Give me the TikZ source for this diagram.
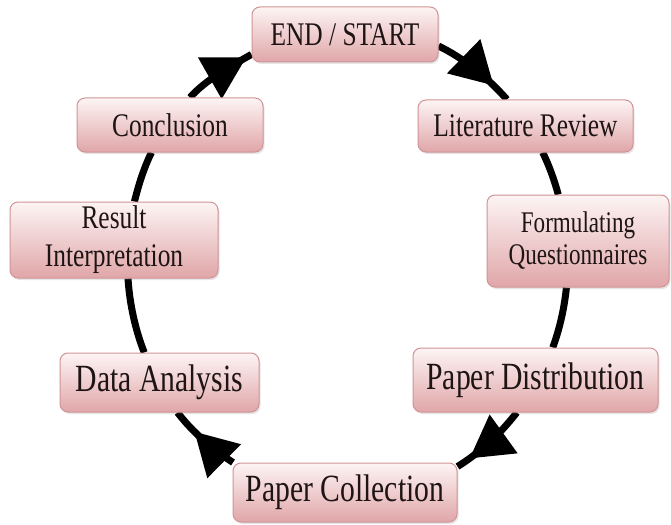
\documentclass[tikz,border=0pt]{standalone}
\usepackage{fontspec}
\setmainfont{Liberation Serif}[FakeStretch=0.77]
\usepackage{tikz}
\usetikzlibrary{arrows.meta,decorations.markings,shadows,backgrounds,positioning}
\definecolor{boxtop}{RGB}{253,244,244}
\definecolor{boxbot}{RGB}{224,166,168}
\definecolor{boxline}{RGB}{208,148,150}
\definecolor{textcol}{RGB}{30,20,20}
\tikzset{x=1pt, y=1pt, font=\fontsize{33}{38}\selectfont}
\tikzstyle{stage} = [draw=boxline, line width=1pt, rounded corners=8pt, top color=boxtop, bottom color=boxbot, text=textcol, align=center, inner sep=0pt, drop shadow={opacity=0.2, shadow xshift=1.5pt, shadow yshift=-2pt}]
\tikzstyle{bigtext} = [font=\fontsize{38.5}{40}\selectfont]
\tikzstyle{smalltext} = [font=\fontsize{30}{32}\selectfont]
\tikzstyle{ring} = [line width=7pt, looseness=0.85]
\tikzset{ringarrow/.style={ring, postaction={decorate}, decoration={markings, mark=at position #1 with {\arrow{Triangle[length=42pt,width=46pt]}}}}}

\begin{document}
\begin{tikzpicture}
    \useasboundingbox (0,0) rectangle (671,-524);
    \node [stage, minimum width=186pt, minimum height=55pt] (start) at (345,-34.5) {END / START};
    \node [stage, minimum width=215pt, minimum height=52pt] (lit) at (525.5,-126) {Literature Review};
    \node [stage, smalltext, minimum width=182pt, minimum height=92pt] (form) at (578,-241) {Formulating\\Questionnaires};
    \node [stage, bigtext, minimum width=245pt, minimum height=64pt] (dist) at (535.5,-380) {Paper Distribution};
    \node [stage, bigtext, minimum width=224pt, minimum height=59pt] (coll) at (345,-492.5) {Paper Collection};
    \node [stage, bigtext, minimum width=199pt, minimum height=59pt] (data) at (159.5,-382.5) {Data Analysis};
    \node [stage, minimum width=208pt, minimum height=76pt] (result) at (114,-240) {Result\\Interpretation};
    \node [stage, minimum width=186pt, minimum height=54pt] (concl) at (170,-125) {Conclusion};

    \begin{scope}[on background layer]
        \draw [ringarrow=0.78] (start.-7.7) to [out=-26, in=131.3] (lit.125.4);
        \draw [ring] (lit.-57.6) to [out=-63.9, in=105.4] (form.113.5);
        \draw [ring] (form.-104.6) to [out=-95.7, in=70] (dist.62.7);
        \draw [ringarrow=0.82] (dist.240) to [out=-127.5, in=31.8] (coll.13.3);
        \draw [ringarrow=0.66] (coll.165.7) to [out=147, in=-52.5] (data.-59.3);
        \draw [ring] (data.117.7) to [out=111.3, in=-86.4] (result.-70.4);
        \draw [ring] (result.62.2) to [out=76.2, in=-116.1] (concl.236.3);
        \draw [ringarrow=0.92] (concl.54.9) to [out=48, in=210] (start.192.4);
    \end{scope}
\end{tikzpicture}
\end{document}
